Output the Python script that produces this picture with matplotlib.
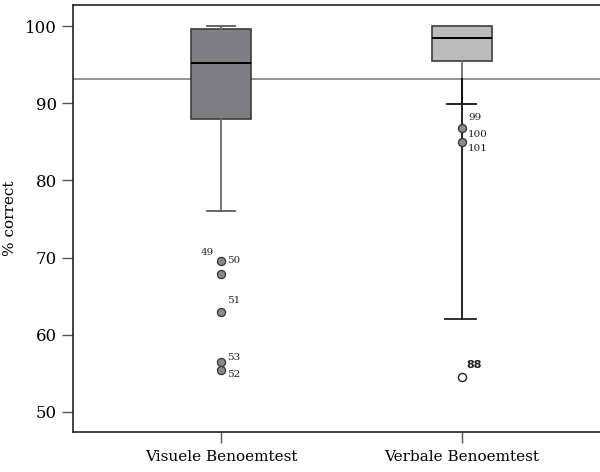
import matplotlib.pyplot as plt

# data
groups = ["Visuele Benoemtest", "Verbale Benoemtest"]
positions = [1, 2]
whisker_low = [76.0, 89.9]
q1 = [88.0, 95.5]
median = [95.2, 98.5]
q3 = [99.6, 100.0]
whisker_high = [100.0, 100.0]
extra_low = [None, 62.0]  # second lower cap on the verbal test

outlier_pos = [1, 1, 1, 1, 1, 2, 2]
outlier_val = [69.6, 67.9, 62.9, 56.5, 55.4, 86.8, 85.0]
outlier_ids = ["49", "50", "51", "53", "52", "99", "100", "101"]

extreme_pos = [2]
extreme_val = [54.5]
extreme_ids = ["88"]

reference_line = 93.2

plt.rcParams["font.family"] = ["DejaVu Serif"]

fig = plt.figure(figsize=(6.0, 4.72), dpi=100)
ax = fig.add_axes([0.1217, 0.0847, 0.8783, 0.904])

box_colors = ["#7e7e84", "#bcbcbc"]
stats = []
for i in range(len(groups)):
    stats.append({
        "whislo": whisker_low[i], "q1": q1[i], "med": median[i],
        "q3": q3[i], "whishi": whisker_high[i], "fliers": [],
    })
bp = ax.bxp(stats, positions=positions, widths=0.25, patch_artist=True,
            showfliers=False, capwidths=0.12)
for patch, c in zip(bp["boxes"], box_colors):
    patch.set_facecolor(c)
    patch.set_edgecolor("#3c3c3c")
    patch.set_linewidth(1.2)
for m in bp["medians"]:
    m.set_color("black")
    m.set_linewidth(1.4)
for w in bp["whiskers"]:
    w.set_color("#6a6a6a")
    w.set_linewidth(1.3)
for c in bp["caps"]:
    c.set_color("#5a5a5a")
    c.set_linewidth(1.3)

ax.axhline(reference_line, color="#8c8c8c", linewidth=1.3, zorder=1)

# extra lower whisker on the verbal test, drawn in black
for p, lo, hi in zip(positions, extra_low, whisker_low):
    if lo is None:
        continue
    ax.plot([p, p], [lo, reference_line], color="black", linewidth=1.2, zorder=2)
    ax.plot([p - 0.07, p + 0.06], [lo, lo], color="#222222", linewidth=1.3, zorder=2)
    ax.plot([p - 0.06, p + 0.06], [hi, hi], color="#222222", linewidth=1.3, zorder=2)

ax.scatter(outlier_pos, outlier_val, s=34, facecolor="#8a8a8a",
           edgecolor="#333333", linewidth=0.9, zorder=4)
ax.scatter(extreme_pos, extreme_val, s=34, facecolor="white",
           edgecolor="#222222", linewidth=1.0, zorder=4)

# outlier case labels
lab_kw = dict(fontsize=7.5, color="#222222", family="DejaVu Serif")
ax.text(0.945, 70.1, outlier_ids[0], ha="center", va="bottom", **lab_kw)
ax.text(1.025, 69.6, outlier_ids[1], ha="left", va="center", **lab_kw)
ax.text(1.025, 63.8, outlier_ids[2], ha="left", va="bottom", **lab_kw)
ax.text(1.025, 56.5, outlier_ids[3], ha="left", va="bottom", **lab_kw)
ax.text(1.025, 54.8, outlier_ids[4], ha="left", va="center", **lab_kw)
ax.text(2.025, 88.1, outlier_ids[5], ha="left", va="center", **lab_kw)
ax.text(2.025, 86.0, outlier_ids[6], ha="left", va="center", **lab_kw)
ax.text(2.025, 84.2, outlier_ids[7], ha="left", va="center", **lab_kw)
ax.text(2.02, 55.5, extreme_ids[0], ha="left", va="bottom", fontsize=8,
        fontweight="bold", family="DejaVu Sans", color="#222222")

ax.set_xlim(0.386, 2.573)
ax.set_ylim(47.4, 102.7)
ax.set_yticks([50, 60, 70, 80, 90, 100])
ax.set_xticks(positions)
ax.set_xticklabels(groups, fontsize=11)
ax.tick_params(axis="y", labelsize=12, length=8, color="#555555", width=1.0)
ax.tick_params(axis="x", length=8, color="#555555", width=1.0, pad=5)
ax.set_ylabel("% correct", fontsize=11, labelpad=6)
ax.spines["right"].set_visible(False)
for s in ["left", "top", "bottom"]:
    ax.spines[s].set_linewidth(1.2)
    ax.spines[s].set_color("#222222")

fig.savefig("out.png", dpi=100)
